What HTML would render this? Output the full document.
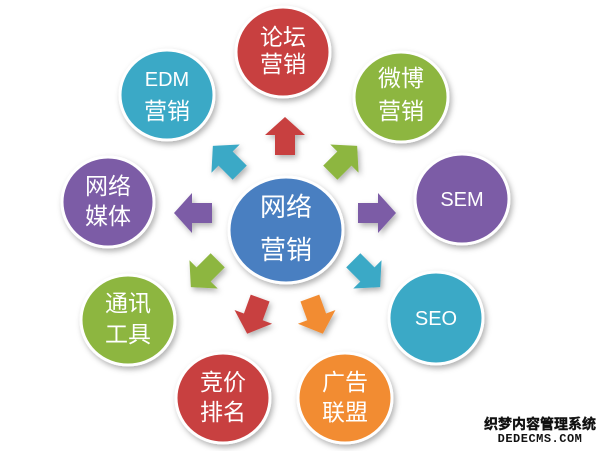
<!DOCTYPE html>
<html><head><meta charset="utf-8"><style>
html,body{margin:0;padding:0;background:#fff;width:600px;height:451px;overflow:hidden}
svg text{font-family:"Liberation Sans","Noto Sans CJK SC",sans-serif;fill:#fff}
</style></head><body>
<svg width="600" height="451" viewBox="0 0 600 451">
<defs>
<filter id="sh" x="-30%" y="-30%" width="160%" height="160%">
<feDropShadow dx="2" dy="3" stdDeviation="3" flood-color="#000" flood-opacity="0.3"/>
</filter>
<path id="ar" d="M0,-20 L20,-2 L10,-2 L10,18 L-10,18 L-10,-2 L-20,-2 Z"/>
</defs>
<g filter="url(#sh)">
<use href="#ar" fill="#c8403f" transform="translate(285,137)"/>
<use href="#ar" fill="#3aa9c6" transform="translate(227,160) rotate(-45)"/>
<use href="#ar" fill="#8db640" transform="translate(343,160) rotate(45)"/>
<use href="#ar" fill="#7b5ba6" transform="translate(194,213) rotate(-90)"/>
<use href="#ar" fill="#7b5ba6" transform="translate(376,213) rotate(90)"/>
<use href="#ar" fill="#8db640" transform="translate(205,273) rotate(-135)"/>
<use href="#ar" fill="#3aa9c6" transform="translate(366,273) rotate(135)"/>
<use href="#ar" fill="#c8403f" transform="translate(254,315) rotate(-160)"/>
<use href="#ar" fill="#f28c30" transform="translate(316,315) rotate(160)"/>
</g>
<g filter="url(#sh)" stroke="#fff" stroke-width="3">
<ellipse cx="286" cy="230" rx="57" ry="53" fill="#4a7fc1"/>
<ellipse cx="283" cy="52" rx="47" ry="45" fill="#c8403f"/>
<ellipse cx="167" cy="95" rx="47" ry="45" fill="#3aa9c6"/>
<ellipse cx="401" cy="97" rx="47" ry="45" fill="#8db640"/>
<ellipse cx="108" cy="202" rx="46" ry="45" fill="#7b5ba6"/>
<ellipse cx="462" cy="199" rx="47" ry="45" fill="#7b5ba6"/>
<ellipse cx="128" cy="320" rx="47" ry="45" fill="#8db640"/>
<ellipse cx="436" cy="318" rx="47" ry="46" fill="#3aa9c6"/>
<ellipse cx="223" cy="398" rx="47" ry="45" fill="#c8403f"/>
<ellipse cx="345" cy="398" rx="47" ry="45" fill="#f28c30"/>
</g>
<g text-anchor="middle" font-size="23">
<text x="286" y="216" font-size="26">网络</text><text x="286" y="259" font-size="26">营销</text>
<text x="283" y="45">论坛</text><text x="283" y="72">营销</text>
<text x="167" y="86" font-size="20">EDM</text><text x="167" y="119">营销</text>
<text x="401" y="86">微博</text><text x="401" y="119">营销</text>
<text x="108" y="194">网络</text><text x="108" y="224">媒体</text>
<text x="462" y="206" font-size="20">SEM</text>
<text x="128" y="311">通讯</text><text x="128" y="342">工具</text>
<text x="436" y="325" font-size="20">SEO</text>
<text x="223" y="390">竞价</text><text x="223" y="420">排名</text>
<text x="345" y="390">广告</text><text x="345" y="420">联盟</text>
</g>
<text x="540" y="429" text-anchor="middle" font-size="14" font-weight="bold" style="fill:#111;stroke:#111;stroke-width:0.4">织梦内容管理系统</text>
<text x="540" y="442" text-anchor="middle" font-size="12" font-weight="bold" style="fill:#111;font-family:'Liberation Mono',monospace" letter-spacing="0.5">DEDECMS.COM</text>
</svg>
</body></html>
